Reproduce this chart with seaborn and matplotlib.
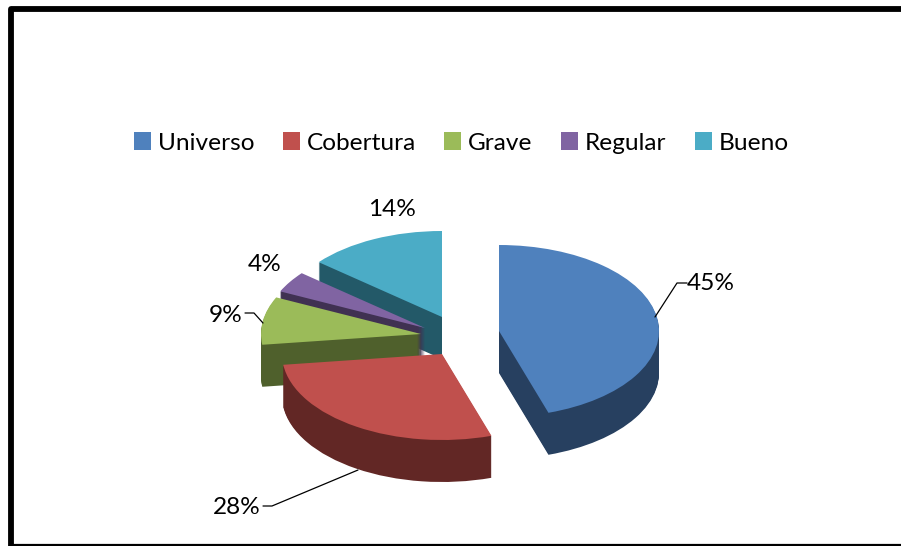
import matplotlib
matplotlib.use("Agg")
import matplotlib.pyplot as plt
import seaborn as sns
from matplotlib.lines import Line2D
from matplotlib.patches import Patch

W, H = 901, 546

categories = ["Universo", "Cobertura", "Grave", "Regular", "Bueno"]
shares = [45, 28, 9, 4, 14]
top_colors = ["#4F81BD", "#C0504D", "#9BBB59", "#8064A2", "#4BACC6"]
side_colors = ["#274060", "#622725", "#4F602C", "#403152", "#235968"]

# slice apex in picture pixels, every slice is pulled out on its own
centers = [(499, 331), (442, 354), (421, 334), (425, 328), (442, 317)]
label_pos = [(711, 284), (237, 507), (226, 315), (265, 264), (392, 210)]
leaders = [
    [(655, 317), (677, 283), (687, 283)],
    [(358, 470), (272, 506), (263, 506)],
    [(263, 323), (254, 313), (245, 313)],
]

radius = 160
squash = 86 / 160
depth = 42

sns.set_theme(style="white")
plt.rcParams["font.family"] = ["Lato", "DejaVu Sans"]


def fig_xy(x, y):
    return x / W, 1 - y / H


fig = plt.figure(figsize=(W / 100, H / 100), dpi=100)
ax = fig.add_axes([0, 0, 1, 1])

# back slices first, red and blue sit in front
order = [4, 3, 2, 0, 1]
starts = [sum(shares[:i]) for i in range(len(shares))]
flat = {"linewidth": 0, "edgecolor": "none"}

for i in order:
    cx, cy = centers[i]
    start = 90 - starts[i] * 3.6
    rest = 100 - shares[i]
    for d in range(depth, 0, -1):
        ax.pie([shares[i], rest], colors=[side_colors[i], "none"], center=(cx, (H - cy - d) / squash),
               radius=radius, startangle=start, counterclock=False, wedgeprops=flat)
    ax.pie([shares[i], rest], colors=[top_colors[i], "none"], center=(cx, (H - cy) / squash),
           radius=radius, startangle=start, counterclock=False, wedgeprops=flat)

ax.set_aspect("auto")
ax.set_xlim(0, W)
ax.set_ylim(0, H / squash)
ax.axis("off")

for share, (x, y) in zip(shares, label_pos):
    fx, fy = fig_xy(x, y)
    fig.text(fx, fy, str(share) + "%", fontsize=17.6, color="black", ha="center", va="center")

for pts in leaders:
    xs = [fig_xy(*p)[0] for p in pts]
    ys = [fig_xy(*p)[1] for p in pts]
    fig.add_artist(Line2D(xs, ys, color="black", linewidth=0.9, transform=fig.transFigure))

handles = [Patch(facecolor=c, edgecolor="none", label=n) for c, n in zip(top_colors, categories)]
fig.legend(handles=handles, ncol=5, loc="center", bbox_to_anchor=fig_xy(461.5, 143), frameon=False,
           fontsize=17.6, handlelength=0.7, handleheight=0.74, handletextpad=0.28,
           columnspacing=1.16, borderpad=0, labelcolor="black")

# black frame, open on the right
xs, ys = zip(fig_xy(W, 9), fig_xy(10.5, 9), fig_xy(10.5, 546))
fig.add_artist(Line2D(xs, ys, color="black", linewidth=4.2, transform=fig.transFigure, solid_joinstyle="round"))
xs, ys = zip(fig_xy(10, 545), fig_xy(W, 545))
fig.add_artist(Line2D(xs, ys, color="black", linewidth=1.6, transform=fig.transFigure))

fig.savefig("out.png", dpi=100, facecolor="white")
